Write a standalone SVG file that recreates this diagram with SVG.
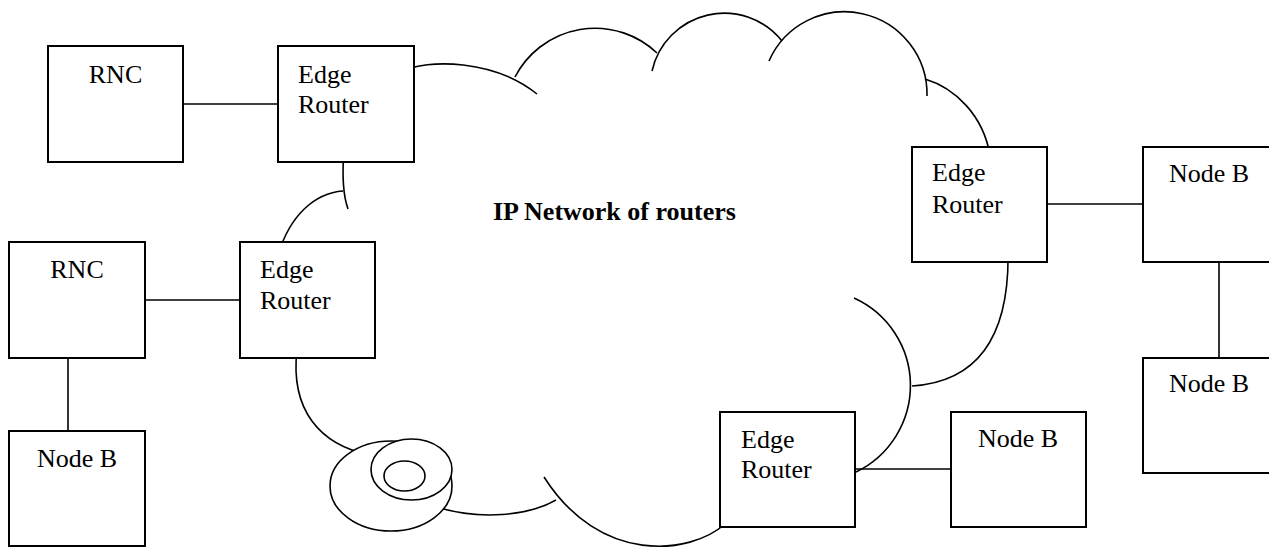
<svg xmlns="http://www.w3.org/2000/svg" width="1269" height="548" viewBox="0 0 1269 548">
<style>
.box{fill:#fff;stroke:#000;stroke-width:2}
.arc{fill:none;stroke:#000;stroke-width:1.6}
.bub{fill:#fff;stroke:#000;stroke-width:1.6}
.ln{stroke:#000;stroke-width:1.6;fill:none}
text{font-family:"Liberation Serif","Times New Roman",serif;font-size:26px;fill:#000}
.c{text-anchor:middle}
.title{font-weight:bold}
</style>
<rect width="1269" height="548" fill="#fff"/>
<g id="cloud">
<path class="arc" d="M400,72 C428,58 495,60 537,94"/>
<path class="arc" d="M515,77 A90,90 0 0 1 657,53"/>
<path class="arc" d="M652,71 A74,74 0 0 1 782,41"/>
<path class="arc" d="M769,61 A82.5,82.5 0 0 1 927,96"/>
<path class="arc" d="M925,79 C955,88 983,115 990,155"/>
<path class="arc" d="M1008,250 C1010,340 975,382 912,386"/>
<path class="arc" d="M854,298 A96,96 0 0 1 856,472"/>
<path class="arc" d="M725,524 C690,555 600,565 544,477"/>
<path class="arc" d="M556,500 C530,515 480,522 430,505"/>
<path class="arc" d="M370,455 C320,445 290,410 297,350"/>
<path class="arc" d="M278,255 C290,215 315,193 343,191"/>
<path class="arc" d="M344,150 C342,175 343,195 348,209"/>
<ellipse class="bub" cx="391" cy="486" rx="61" ry="45"/>
<ellipse class="bub" cx="411.5" cy="469.5" rx="40.5" ry="30.5"/>
<ellipse class="bub" cx="404.5" cy="476" rx="20.5" ry="15"/>
<text class="title" x="493" y="220">IP Network of routers</text>
</g>
<g id="connectors">
<line class="ln" x1="183" y1="104" x2="278" y2="104"/>
<line class="ln" x1="145" y1="300" x2="240" y2="300"/>
<line class="ln" x1="68" y1="358" x2="68" y2="431"/>
<line class="ln" x1="1047" y1="204" x2="1143" y2="204"/>
<line class="ln" x1="1219" y1="262" x2="1219" y2="358"/>
<line class="ln" x1="855" y1="469" x2="951" y2="469"/>
</g>
<g id="rnc1">
<rect class="box" x="48" y="46" width="135" height="116"/>
<text class="c" x="115.5" y="83">RNC</text>
</g>
<g id="edge-router1">
<rect class="box" x="278" y="46" width="136" height="116"/>
<text x="298" y="83">Edge</text>
<text x="298" y="113">Router</text>
</g>
<g id="rnc2">
<rect class="box" x="9" y="242" width="136" height="116"/>
<text class="c" x="77" y="278">RNC</text>
</g>
<g id="edge-router2">
<rect class="box" x="240" y="242" width="135" height="116"/>
<text x="260" y="278">Edge</text>
<text x="260" y="309">Router</text>
</g>
<g id="nodeb-left">
<rect class="box" x="9" y="431" width="136" height="115"/>
<text class="c" x="77" y="467">Node B</text>
</g>
<g id="edge-router3">
<rect class="box" x="912" y="147" width="135" height="115"/>
<text x="932" y="181">Edge</text>
<text x="932" y="213">Router</text>
</g>
<g id="nodeb-right1">
<rect class="box" x="1143" y="147" width="140" height="115"/>
<text x="1169" y="182">Node B</text>
</g>
<g id="nodeb-right2">
<rect class="box" x="1143" y="358" width="140" height="115"/>
<text x="1169" y="392">Node B</text>
</g>
<g id="edge-router4">
<rect class="box" x="720" y="412" width="135" height="115"/>
<text x="741" y="448">Edge</text>
<text x="741" y="478">Router</text>
</g>
<g id="nodeb-bottom">
<rect class="box" x="951" y="412" width="135" height="115"/>
<text class="c" x="1018" y="447">Node B</text>
</g>
</svg>
